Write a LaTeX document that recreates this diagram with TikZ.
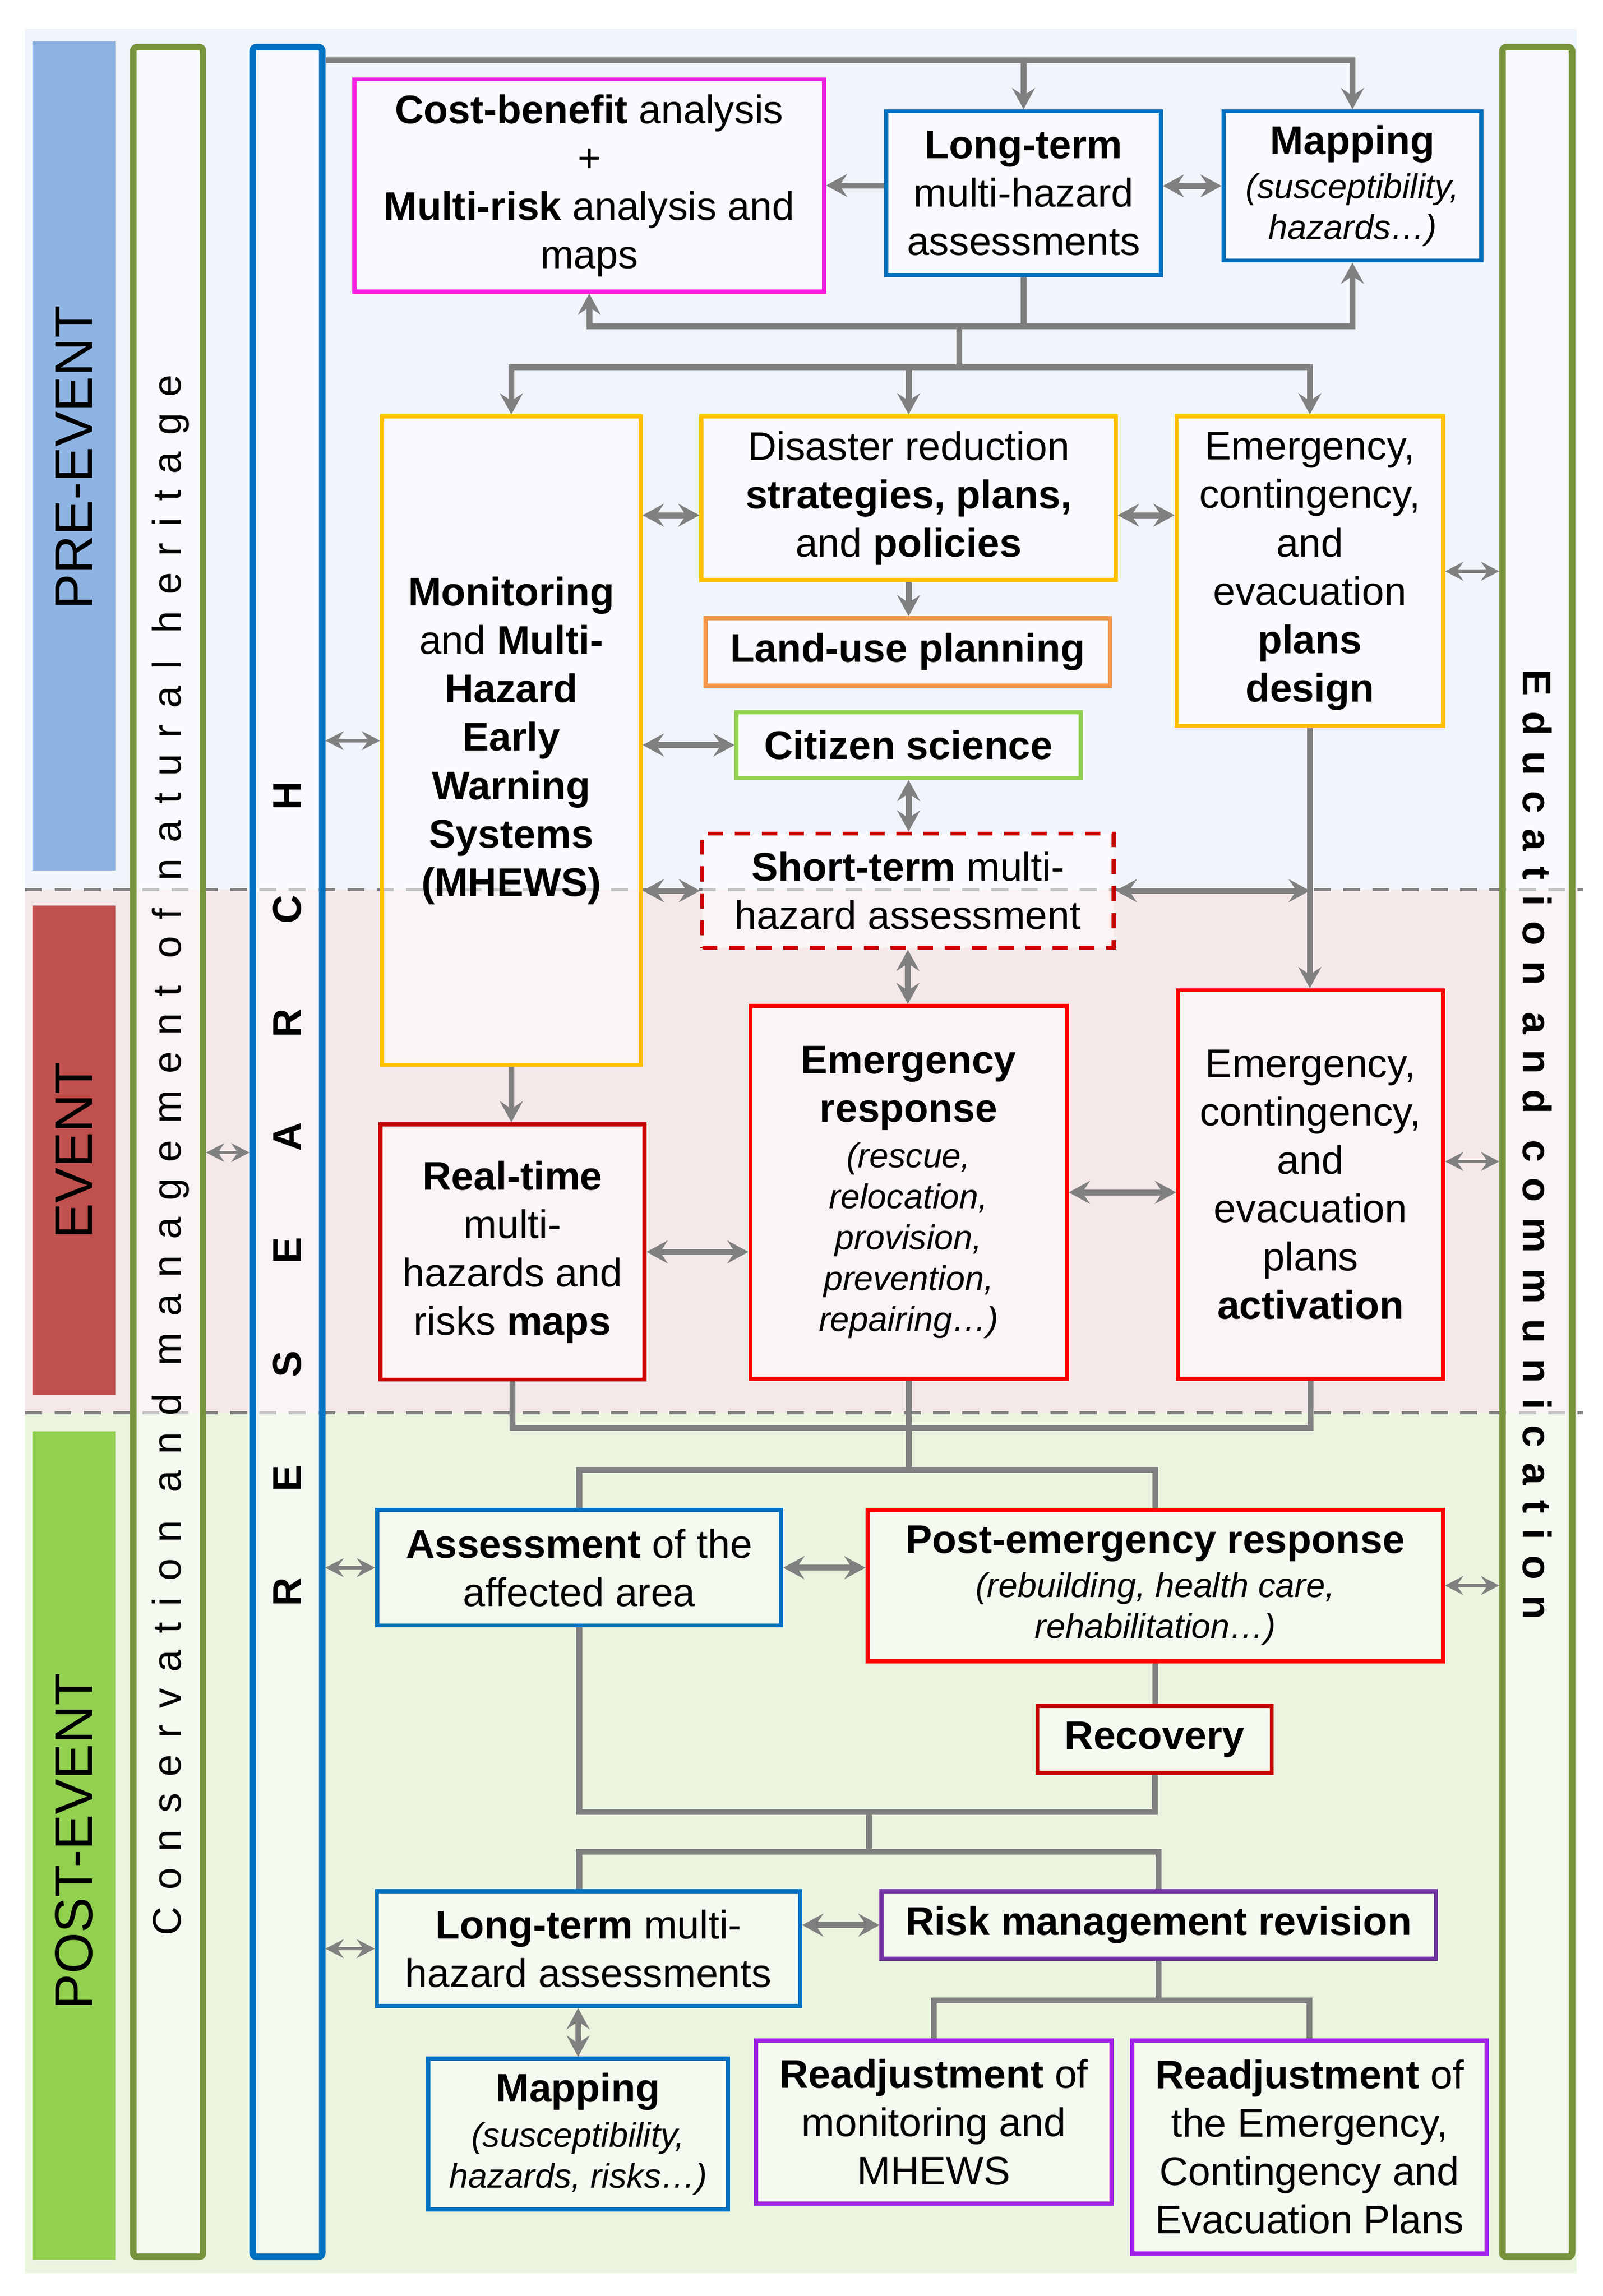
\documentclass[tikz,border=0pt]{standalone}
\usepackage{fontspec}
\setmainfont{Liberation Sans}
\usetikzlibrary{arrows.meta,calc}

\definecolor{cmag}{RGB}{245,30,225}
\definecolor{cblue}{RGB}{0,112,192}
\definecolor{cyel}{RGB}{255,192,0}
\definecolor{corange}{RGB}{247,150,70}
\definecolor{clgreen}{RGB}{146,208,80}
\definecolor{cdred}{RGB}{200,0,0}
\definecolor{cred}{RGB}{255,0,0}
\definecolor{cpurple}{RGB}{112,48,160}
\definecolor{cviolet}{RGB}{160,32,230}
\definecolor{colive}{RGB}{119,147,60}
\definecolor{cgray}{RGB}{128,128,128}
\definecolor{bgpre}{RGB}{240,244,251}
\definecolor{bgev}{RGB}{245,232,232}
\definecolor{bgpost}{RGB}{234,244,222}
\definecolor{stpre}{RGB}{142,180,227}
\definecolor{stev}{RGB}{192,80,77}
\definecolor{stpost}{RGB}{146,208,80}

\newcommand\itsm[1]{{\fontsize{16.7}{19.9}\selectfont\itshape #1}}

\tikzset{
  sz/.style 2 args={minimum width=#1*0.25mm, minimum height=#2*0.25mm},
  box/.style={draw, line width=0.7mm, fill=white, fill opacity=0.55, text opacity=1,
    align=center, inner sep=0pt},
  bar/.style={draw=#1, line width=1.1mm, fill=white, fill opacity=0.55,
    rounded corners=0.6mm, inner sep=0pt, sz={47.5}{1509.6}},
  conn/.style={draw=cgray, line width=1mm},
  arr/.style={conn, -{Stealth[length=3.6mm,width=3.9mm,inset=1.3mm]}},
  darr/.style={conn, {Stealth[length=3.6mm,width=3.9mm,inset=1.3mm]}-{Stealth[length=3.6mm,width=3.9mm,inset=1.3mm]}},
  barr/.style={draw=cgray, line width=0.6mm,
    {Stealth[length=3.1mm,width=3.2mm,inset=1.1mm]}-{Stealth[length=3.1mm,width=3.2mm,inset=1.1mm]}},
  band/.style={draw=cgray, line width=0.55mm, dash pattern=on 2.9mm off 2.1mm},
}

\begin{document}
\begin{tikzpicture}[x=0.25mm, y=-0.25mm, font=\fontsize{19.4}{23.5}\selectfont]
    %initialisation
    \useasboundingbox (0,0) rectangle (1094.7,1568.6);
    \fill[bgpre] (17.2,19.6) rectangle (1076.5,607.8);
    \fill[bgev] (17.2,607.8) rectangle (1076.5,965.2);
    \fill[bgpost] (17.2,965.2) rectangle (1076.5,1553);
    \fill[stpre] (22,28.3) rectangle (78.6,594.7);
    \fill[stev] (22,618.6) rectangle (78.6,952.8);
    \fill[stpost] (22,978) rectangle (78.6,1544);
    \draw[band] (17.2,607.8) -- (1081,607.8);
    \draw[band] (17.2,965.2) -- (1081,965.2);
    %phases
    \node[rotate=90, anchor=base, font=\fontsize{25.8}{30}\selectfont] at (63.1,312.5) {PRE-EVENT};
    \node[rotate=90, anchor=base, font=\fontsize{25.8}{30}\selectfont] at (63.1,785.8) {EVENT};
    \node[rotate=90, anchor=base, font=\fontsize{25.8}{30}\selectfont] at (63.1,1258) {POST-EVENT};
    %bars
    \node[bar=colive] (cons) at (114.85,787) {};
    \node[bar=cblue] (res) at (196.3,787) {};
    \node[bar=colive] (edu) at (1049.8,787) {};
    \node[rotate=90, anchor=base, font=\fontsize{19.4}{23.5}\selectfont\addfontfeature{LetterSpace=41}]
      at (123.6,789) {Conservation and management of natural heritage};
    \node[rotate=-90, anchor=base, font=\fontsize{19.4}{23.5}\selectfont\bfseries\addfontfeature{LetterSpace=38.5}]
      at (1040,782) {Education and communication};
    \foreach \l [count=\i from 0] in {R,E,S,E,A,R,C,H}
      \node[rotate=90, anchor=base, font=\fontsize{19.4}{23.5}\selectfont\bfseries] at (205.7,{1087.5-77.7*\i}) {\l};
    %definitions
    \node[box, draw=cmag, sz={320.6}{145}] (cba) at (402.4,126.7)
      {\textbf{Cost-benefit} analysis\\+\\\textbf{Multi-risk} analysis and\\maps};
    \node[box, draw=cblue, sz={187.5}{112}] (lta) at (699,132)
      {\textbf{Long-term}\\multi-hazard\\assessments};
    \node[box, draw=cblue, sz={176}{102}] (mapa) at (923.6,127)
      {\textbf{Mapping}\\[-2.2pt]\itsm{(susceptibility,}\\[-3.6pt]\itsm{hazards…)}};
    \node[box, draw=cyel, sz={176.6}{443}] (mon) at (349.2,506)
      {\textbf{Monitoring}\\and \textbf{Multi-}\\\textbf{Hazard}\\\textbf{Early}\\\textbf{Warning}\\\textbf{Systems}\\\textbf{(MHEWS)}};
    \node[box, draw=cyel, sz={283}{111.7}] (drs) at (620.5,340.3)
      {Disaster reduction\\\textbf{strategies, plans,}\\and \textbf{policies}};
    \node[box, draw=cyel, sz={182}{211.6}] (epd) at (894.5,390.3)
      {Emergency,\\contingency,\\and\\evacuation\\\textbf{plans}\\\textbf{design}};
    \node[box, draw=corange, sz={276}{46}] (lup) at (619.9,445.4) {\textbf{Land-use planning}};
    \node[box, draw=clgreen, sz={235}{45}] (cit) at (620.5,509) {\textbf{Citizen science}};
    \node[box, draw=cdred, dash pattern=on 2.6mm off 2mm, sz={281}{78}] (sta) at (620,608.5)
      {\textbf{Short-term} multi-\\hazard assessment};
    \node[box, draw=cdred, sz={180.3}{174.3}] (rtm) at (350,855.3)
      {\textbf{Real-time}\\multi-\\hazards and\\risks \textbf{maps}};
    \node[box, draw=cred, sz={216}{254.6}] (ers) at (620.5,814.6)
      {\textbf{Emergency}\\\textbf{response}\\[-1.5pt]\itsm{(rescue,}\\[-3.6pt]\itsm{relocation,}\\[-3.6pt]\itsm{provision,}\\[-3.6pt]\itsm{prevention,}\\[-3.6pt]\itsm{repairing…)}};
    \node[box, draw=cred, sz={181}{265.4}] (epa) at (895,809.2)
      {Emergency,\\contingency,\\and\\evacuation\\plans\\\textbf{activation}};
    \node[box, draw=cblue, sz={276}{79}] (asm) at (395.5,1071)
      {\textbf{Assessment} of the\\affected area};
    \node[box, draw=cred, sz={393}{103.4}] (per) at (788.9,1083.2)
      {\textbf{Post-emergency response}\\[-2.2pt]\itsm{(rebuilding, health care,}\\[-3.6pt]\itsm{rehabilitation…)}};
    \node[box, draw=cdred, sz={160}{45.6}] (rec) at (788.5,1188.3) {\textbf{Recovery}};
    \node[box, draw=cblue, sz={289}{78.4}] (ltb) at (401.9,1331.3)
      {\textbf{Long-term} multi-\\hazard assessments};
    \node[box, draw=cpurple, sz={378.5}{46}] (rmr) at (791.3,1315.2) {\textbf{Risk management revision}};
    \node[box, draw=cblue, sz={204.6}{103}] (mapb) at (394.8,1458)
      {\textbf{Mapping}\\[-1.5pt]\itsm{(susceptibility,}\\[-3.6pt]\itsm{hazards, risks…)}};
    \node[box, draw=cviolet, sz={242.7}{111.4}] (rja) at (637.7,1449.8)
      {\textbf{Readjustment} of\\monitoring and\\MHEWS};
    \node[box, draw=cviolet, sz={242}{145.4}] (rjb) at (894.3,1466.8)
      {\textbf{Readjustment} of\\the Emergency,\\Contingency and\\Evacuation Plans};
    \coordinate (tbus) at (655,41.2);
    \coordinate (bus1) at (655,222.8);
    \coordinate (bus2) at (655,251);
    \coordinate (bus3) at (620.5,975.4);
    \coordinate (bus4) at (620.5,1004);
    \coordinate (bus5) at (593.6,1238);
    \coordinate (bus6) at (593.6,1265);
    \coordinate (bus7) at (791.3,1366.5);
    \coordinate (ya) at (0,352);
    \coordinate (yb) at (0,793.5);
    \coordinate (yc) at (0,787.4);
    %drawing
    \draw[arr] (res.east |- tbus) -| (mapa.north);
    \draw[arr] (lta.north |- tbus) -- (lta.north);
    \draw[arr] (lta.west |- cba.east) -- (cba.east);
    \draw[darr] (lta.east |- mapa.west) -- (mapa.west);
    \draw[conn] (lta.south) -- (lta.south |- bus1);
    \draw[arr] (lta.south |- bus1) -| (cba.south);
    \draw[arr] (lta.south |- bus1) -| (mapa.south);
    \draw[conn] (bus1) -- (bus2);
    \draw[arr] (bus2) -| (mon.north);
    \draw[arr] (bus2) -| (epd.north);
    \draw[arr] (drs.north |- bus2) -- (drs.north);
    \draw[darr] (mon.east |- ya) -- (drs.west |- ya);
    \draw[darr] (drs.east |- ya) -- (epd.west |- ya);
    \draw[arr] (drs.south) -- (drs.south |- lup.north);
    \draw[barr] (epd.east) -- (edu.west |- epd.east);
    \draw[barr] (res.east |- mon.west) -- (mon.west);
    \draw[darr] (mon.east |- cit.west) -- (cit.west);
    \draw[darr] (cit.south) -- (cit.south |- sta.north);
    \draw[darr] (mon.east |- sta.west) -- (sta.west);
    \draw[darr] (sta.east) -- (epd.south |- sta.east);
    \draw[arr] (epd.south) -- (epd.south |- epa.north);
    \draw[darr] (sta.south) -- (sta.south |- ers.north);
    \draw[arr] (mon.south) -- (mon.south |- rtm.north);
    \draw[darr] (rtm.east) -- (ers.west |- rtm.east);
    \draw[darr] (ers.east) -- (epa.west |- ers.east);
    \draw[barr] (epa.east |- yb) -- (edu.west |- yb);
    \draw[barr] (cons.east |- yc) -- (res.west |- yc);
    \draw[conn] (rtm.south) |- (bus3) -| (epa.south);
    \draw[conn] (ers.south) -- (bus4);
    \draw[conn] (asm.north) |- (bus4) -| (per.north);
    \draw[barr] (res.east |- asm.west) -- (asm.west);
    \draw[darr] (asm.east) -- (per.west |- asm.east);
    \draw[barr] (per.east) -- (edu.west |- per.east);
    \draw[conn] (per.south) -- (per.south |- rec.north);
    \draw[conn] (asm.south) |- (bus5) -| (rec.south);
    \draw[conn] (bus5) -- (bus6);
    \draw[conn] (asm.south |- ltb.north) |- (bus6) -| (rmr.north);
    \draw[barr] (res.east |- ltb.west) -- (ltb.west);
    \draw[darr] (ltb.east |- rmr.west) -- (rmr.west);
    \draw[darr] (mapb.north |- ltb.south) -- (mapb.north);
    \draw[conn] (rmr.south) -- (bus7);
    \draw[conn] (rja.north) |- (bus7) -| (rjb.north);
\end{tikzpicture}
\end{document}
